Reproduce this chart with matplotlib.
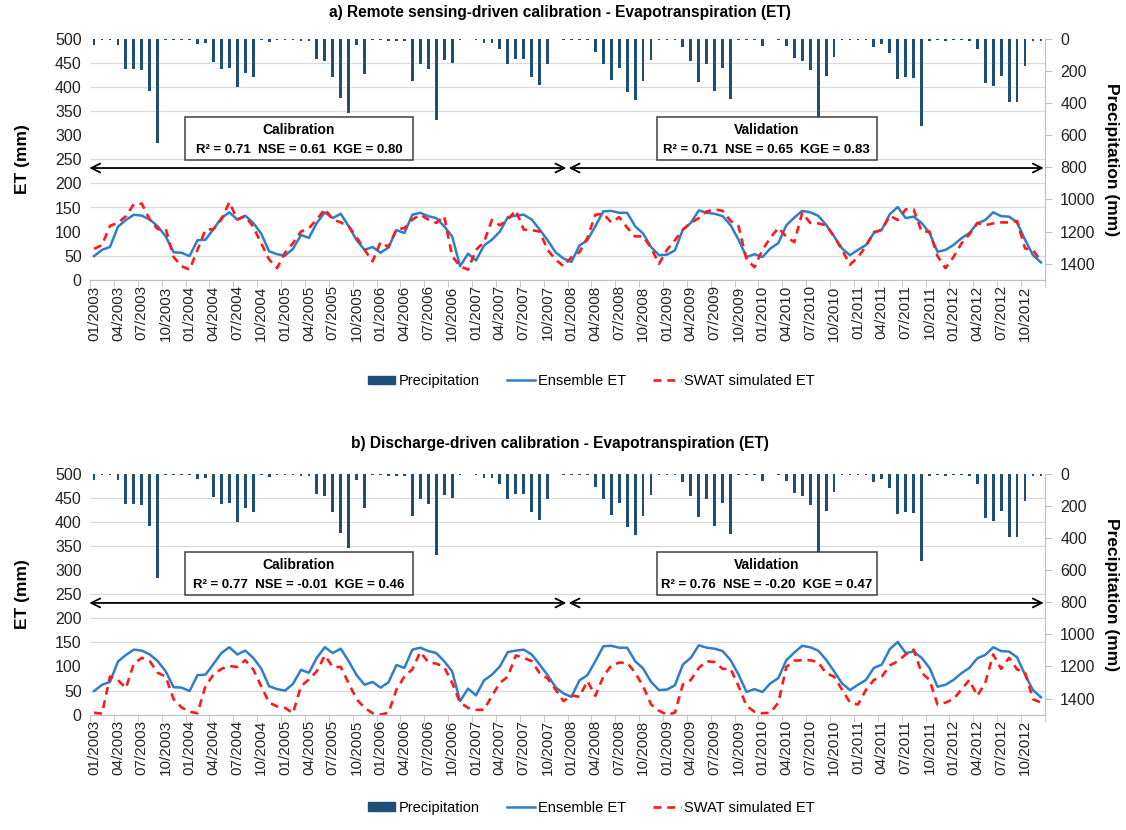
import numpy as np
import matplotlib.pyplot as plt
from matplotlib.patches import Patch, Rectangle
from matplotlib.lines import Line2D

plt.rcParams['font.family'] = ['Liberation Sans', 'DejaVu Sans']

years = list(range(2003, 2013))
tick_labels = [f"{m:02d}/{y}" for y in years for m in (1, 4, 7, 10)]

# monthly precipitation (mm), 01/2003 - 12/2012
precip = [35, 5, 5, 35, 185, 185, 195, 325, 650, 4, 4, 4,
          4, 30, 25, 145, 185, 180, 300, 210, 235, 4, 18, 4,
          4, 4, 15, 15, 125, 135, 235, 365, 460, 40, 215, 4,
          4, 10, 15, 10, 260, 155, 185, 505, 130, 150, 4, 0,
          4, 25, 25, 65, 155, 125, 125, 235, 285, 155, 0, 4,
          4, 4, 8, 80, 155, 255, 180, 330, 380, 260, 130, 4,
          4, 4, 50, 140, 270, 155, 325, 180, 375, 4, 4, 4,
          45, 0, 4, 45, 120, 135, 195, 540, 230, 110, 4, 4,
          4, 4, 50, 30, 90, 250, 235, 245, 545, 15, 4, 15,
          4, 4, 15, 65, 275, 295, 230, 390, 390, 170, 15, 15]

# ensemble ET (mm)
ens_et = [49, 62, 68, 110, 124, 135, 133, 125, 111, 90, 57, 56,
          49, 82, 83, 105, 128, 140, 125, 133, 118, 96, 59, 53,
          50, 64, 93, 87, 118, 140, 128, 137, 111, 82, 62, 68,
          56, 67, 103, 97, 135, 139, 132, 128, 111, 90, 28, 54,
          40, 71, 83, 100, 130, 133, 135, 125, 104, 82, 57, 44,
          37, 71, 82, 111, 142, 143, 139, 139, 111, 96, 68, 51,
          52, 61, 104, 118, 144, 139, 137, 132, 113, 83, 47, 53,
          47, 65, 76, 113, 129, 143, 140, 133, 114, 90, 65, 51,
          62, 72, 97, 104, 136, 151, 128, 131, 118, 97, 58, 62,
          72, 86, 97, 117, 124, 140, 132, 131, 119, 83, 51, 36]

# SWAT ET, remote sensing-driven calibration
swat_rs = [64, 72, 112, 118, 132, 157, 158, 125, 105, 106, 47, 28,
           21, 62, 104, 105, 125, 161, 125, 132, 110, 76, 42, 24,
           56, 76, 100, 107, 125, 147, 125, 119, 111, 88, 62, 38,
           78, 68, 105, 107, 125, 135, 125, 118, 132, 49, 28, 21,
           62, 78, 124, 113, 125, 144, 104, 103, 100, 62, 42, 28,
           47, 57, 87, 135, 137, 119, 130, 108, 90, 90, 66, 33,
           62, 82, 104, 118, 128, 142, 146, 143, 122, 111, 42, 26,
           62, 87, 108, 89, 78, 139, 118, 117, 113, 90, 62, 31,
           47, 69, 99, 103, 133, 124, 146, 146, 100, 100, 49, 24,
           47, 75, 94, 118, 113, 117, 119, 119, 122, 65, 62, 38]

# SWAT ET, discharge-driven calibration
swat_q = [4, 2, 79, 72, 55, 106, 118, 111, 87, 79, 32, 15,
          6, 3, 59, 83, 95, 101, 99, 113, 94, 59, 25, 17,
          14, 3, 59, 73, 90, 123, 99, 99, 65, 32, 14, 3,
          0, 4, 52, 79, 94, 130, 109, 106, 99, 66, 25, 14,
          10, 10, 39, 66, 79, 123, 118, 111, 86, 75, 52, 28,
          40, 37, 70, 39, 79, 102, 108, 108, 87, 59, 21, 8,
          0, 4, 63, 72, 97, 111, 109, 95, 95, 59, 18, 6,
          3, 4, 25, 99, 112, 113, 113, 109, 86, 79, 52, 25,
          21, 51, 72, 79, 102, 111, 125, 135, 87, 72, 21, 25,
          32, 52, 72, 39, 66, 125, 95, 118, 94, 88, 32, 25]

titles = ["a) Remote sensing-driven calibration - Evapotranspiration (ET)",
          "b) Discharge-driven calibration - Evapotranspiration (ET)"]
cal_stats = ["R² = 0.71  NSE = 0.61  KGE = 0.80",
             "R² = 0.77  NSE = -0.01  KGE = 0.46"]
val_stats = ["R² = 0.71  NSE = 0.65  KGE = 0.83",
             "R² = 0.76  NSE = -0.20  KGE = 0.47"]

bar_col = '#1F4E79'
ens_col = '#2E7EC8'
swat_col = '#FF1A1A'
grid_col = '#D9D9D9'

x = np.arange(len(precip))

fig = plt.figure(figsize=(11.26, 8.30), dpi=100)


def draw_panel(rect, swat, title, cal, val, title_y, legend_y):
    ax = fig.add_axes(rect)
    axp = ax.twinx()
    ax.set_zorder(axp.get_zorder() + 1)
    ax.patch.set_visible(False)

    # precipitation bars, inverted right axis
    axp.bar(x, precip, width=0.35, color=bar_col, zorder=2)
    axp.set_ylim(1500, 0)
    axp.set_yticks(np.arange(0, 1401, 200))
    axp.set_yticks(np.arange(0, 1501, 150), minor=True)
    axp.grid(which='minor', axis='y', color=grid_col, lw=0.9, zorder=0)
    axp.tick_params(axis='y', which='major', length=5, color='#BFBFBF',
                    labelsize=11.5, labelcolor='#222222', pad=6)
    axp.tick_params(axis='y', which='minor', length=0)
    for s in ('top', 'left', 'bottom'):
        axp.spines[s].set_visible(False)
    axp.spines['right'].set_color('#BFBFBF')

    # ET lines
    ax.plot(x, ens_et, color=ens_col, lw=1.8, zorder=3)
    ax.plot(x, swat, color=swat_col, lw=1.9, ls=(0, (3, 2.2)), zorder=3)
    ax.set_ylim(0, 500)
    ax.set_yticks(np.arange(0, 501, 50))
    ax.set_xlim(-0.5, len(x) - 0.5)
    ax.set_xticks(x[::3])
    ax.set_xticklabels(tick_labels, rotation=90)
    ax.set_xticks(np.arange(-0.5, len(x), 3), minor=True)
    ax.tick_params(axis='x', which='major', length=0, labelsize=11,
                   labelcolor='#222222', pad=4)
    ax.tick_params(axis='x', which='minor', length=5, color='#BFBFBF')
    ax.tick_params(axis='y', length=0, labelsize=11.5, labelcolor='#222222', pad=6)
    for s in ('top', 'left', 'right'):
        ax.spines[s].set_visible(False)
    ax.spines['bottom'].set_color('#BFBFBF')

    # calibration / validation periods
    arrow = dict(arrowstyle='<->', lw=1.3, color='black', shrinkA=0, shrinkB=0,
                 mutation_scale=16)
    ax.annotate('', xy=(-0.6, 232), xytext=(59.35, 232), arrowprops=arrow,
                annotation_clip=False)
    ax.annotate('', xy=(59.65, 232), xytext=(119.35, 232), arrowprops=arrow,
                annotation_clip=False)

    for (x0, x1), label, stats in [((11.4, 40.1), 'Calibration', cal),
                                   ((70.7, 98.4), 'Validation', val)]:
        ax.add_patch(Rectangle((x0, 249), x1 - x0, 88, facecolor='white',
                               edgecolor='#404040', lw=1.1, zorder=5))
        ax.text((x0 + x1) / 2, 311, label, ha='center', va='center',
                fontsize=10, fontweight='bold', zorder=6)
        ax.text((x0 + x1) / 2, 270, stats, ha='center', va='center',
                fontsize=9.5, fontweight='bold', zorder=6)

    fig.text(0.497, title_y, title, ha='center', va='center', fontsize=11.2,
             fontweight='bold')
    mid = rect[1] + rect[3] / 2
    fig.text(0.020, mid, 'ET (mm)', rotation=90, ha='center', va='center',
             fontsize=12.5, fontweight='bold')
    fig.text(0.987, mid, 'Precipitation (mm)', rotation=270, ha='center',
             va='center', fontsize=12.5, fontweight='bold')

    handles = [Patch(color=bar_col),
               Line2D([], [], color=ens_col, lw=1.8),
               Line2D([], [], color=swat_col, lw=1.9, ls=(0, (3, 2.2)))]
    fig.legend(handles, ['Precipitation', 'Ensemble ET', 'SWAT simulated ET'],
               loc='center', bbox_to_anchor=(0.525, legend_y), ncol=3,
               frameon=False, fontsize=10.5, handlelength=1.9, handleheight=0.5,
               handletextpad=0.2, columnspacing=1.9)


draw_panel([0.080, 0.663, 0.848, 0.290], swat_rs, titles[0], cal_stats[0],
           val_stats[0], 0.9855, 0.541)
draw_panel([0.080, 0.139, 0.848, 0.290], swat_q, titles[1], cal_stats[1],
           val_stats[1], 0.466, 0.027)

fig.savefig('out.png', dpi=100)
